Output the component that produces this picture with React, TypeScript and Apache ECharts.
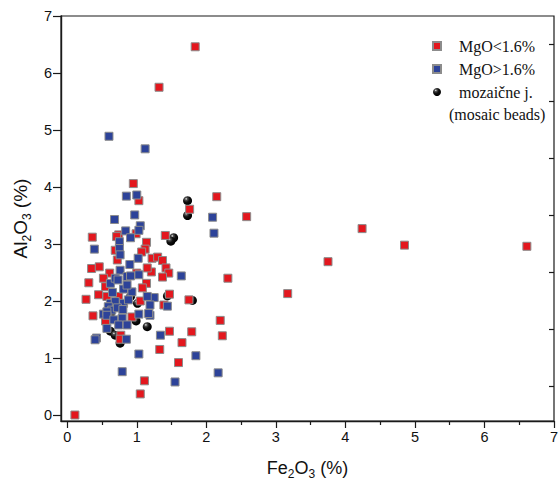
import React, { useEffect, useRef } from "react";
import * as echarts from "echarts";

const xMajorTicks = [0, 1, 2, 3, 4, 5, 6, 7];
const xMinorTicks = [0.5, 1.5, 2.5, 3.5, 4.5, 5.5, 6.5];
const yMajorTicks = [0, 1, 2, 3, 4, 5, 6, 7];
const yMinorTicks = [0.5, 1.5, 2.5, 3.5, 4.5, 5.5, 6.5];

const redLabel = "MgO<1.6%";
const blueLabel = "MgO>1.6%";
const beadLabel = "mozaične j.";
const beadLabel2 = "(mosaic beads)";

const redPoints: [number, number][] = [
  [0.11, 0.0], [1.84, 6.46], [1.32, 5.75], [2.15, 3.83], [2.58, 3.48], [4.24, 3.27],
  [4.85, 2.98], [6.61, 2.96], [3.75, 2.69], [2.31, 2.4], [3.17, 2.13], [2.2, 1.66],
  [2.23, 1.39], [1.76, 3.61], [1.41, 3.15], [1.22, 2.75], [1.3, 2.77], [1.37, 2.71],
  [1.42, 2.58], [1.46, 2.49], [1.37, 2.42], [1.21, 2.51], [1.47, 2.12], [1.75, 2.02],
  [1.39, 1.93], [0.95, 4.06], [1.03, 3.76], [0.74, 3.16], [0.99, 3.18], [0.36, 3.12],
  [1.14, 3.03], [1.12, 2.91], [1.07, 2.86], [0.69, 2.89], [0.72, 2.72], [0.35, 2.57],
  [0.46, 2.6], [0.61, 2.49], [1.0, 2.49], [1.15, 2.58], [1.14, 2.31], [1.08, 2.23],
  [0.31, 2.32], [0.52, 2.4], [0.55, 2.25], [0.27, 2.03], [0.45, 2.11], [0.57, 2.08],
  [0.74, 2.08], [1.05, 2.0], [0.37, 1.74], [0.93, 1.72], [0.55, 1.65], [0.77, 1.4],
  [0.76, 1.33], [1.47, 1.47], [1.79, 1.46], [1.65, 1.27], [1.33, 1.15], [1.6, 0.92],
  [1.11, 0.6], [1.05, 0.37], [0.71, 3.13],
];

const bluePoints: [number, number][] = [
  [0.6, 4.89], [1.12, 4.67], [2.09, 3.47], [2.11, 3.19], [1.64, 2.44], [1.25, 2.06],
  [1.44, 1.91], [1.19, 1.75], [0.85, 3.84], [1.0, 3.86], [0.97, 3.51], [0.68, 3.43],
  [1.05, 3.32], [1.03, 3.24], [0.84, 3.23], [0.91, 3.11], [0.39, 2.91], [0.75, 3.04],
  [0.75, 2.92], [0.76, 2.81], [1.02, 2.75], [0.9, 2.64], [0.76, 2.54], [0.86, 2.43],
  [0.91, 2.44], [1.03, 2.46], [0.62, 2.31], [0.69, 2.4], [0.73, 2.37], [0.81, 2.21],
  [0.93, 2.16], [0.86, 2.28], [0.62, 1.96], [0.69, 1.99], [0.81, 1.96], [0.88, 2.02],
  [1.15, 2.08], [1.19, 1.93], [0.52, 1.77], [1.03, 1.77], [1.17, 1.78], [0.59, 1.9],
  [0.64, 1.84], [0.57, 1.81], [0.57, 1.75], [0.67, 1.67], [0.79, 1.7], [0.86, 1.58],
  [0.74, 1.58], [0.57, 1.52], [0.42, 1.35], [0.4, 1.32], [0.85, 1.33], [1.34, 1.4],
  [1.03, 1.07], [1.85, 1.04], [0.79, 0.76], [1.55, 0.58], [2.17, 0.74], [0.65, 2.15],
  [0.72, 1.88], [0.8, 1.85],
];

const beadPoints: [number, number][] = [
  [1.73, 3.76], [1.73, 3.5], [1.53, 3.11], [1.49, 3.05], [1.44, 2.09], [1.8, 2.01],
  [0.91, 2.08], [1.01, 1.96], [0.99, 1.65], [1.15, 1.55], [0.62, 1.47], [0.69, 1.4],
  [0.76, 1.26], [0.62, 1.77],
];

const SANS = "'Liberation Sans', Arial, sans-serif";
const SERIF = "'Liberation Serif', 'Times New Roman', serif";

export default function App() {
  const ref = useRef<HTMLDivElement>(null);
  useEffect(() => {
    document.body.style.margin = "0";
    if (!ref.current) return;
    const chart = echarts.init(ref.current, undefined, { renderer: "svg" });
    const sphere = new echarts.graphic.RadialGradient(0.35, 0.3, 0.65, [
      { offset: 0, color: "#ffffff" },
      { offset: 0.2, color: "#555555" },
      { offset: 0.55, color: "#111111" },
      { offset: 1, color: "#000000" },
    ]);
    const xRich = {
      a: { fontSize: 18, fontFamily: SANS, color: "#111" },
      s: { fontSize: 12, fontFamily: SANS, color: "#111", padding: [12, 0, 0, 0] },
    };
    const yRich = {
      a: { fontSize: 19, fontFamily: SANS, color: "#111" },
      s: { fontSize: 12, fontFamily: SANS, color: "#111", padding: [13, 0, 0, 0] },
    };
    const gridH = 483 - 16 - 62;
    const gridW = 560 - 61 - 6;
    const option: any = {
      animation: false,
      backgroundColor: "#fff",
      grid: {
        left: 61, right: 6, top: 16, bottom: 62,
        outerBoundsMode: "none",
        containLabel: false,
        show: true, borderColor: "#1a1a1a", borderWidth: 1.2, backgroundColor: "transparent",
      },
      legend: {
        orient: "vertical",
        left: 432,
        top: 38,
        padding: 0,
        itemWidth: 8,
        itemHeight: 8,
        itemGap: 7,
        data: [redLabel, blueLabel, beadLabel],
        textStyle: {
          fontFamily: SERIF, fontSize: 16, color: "#111", lineHeight: 16,
          padding: [0, 0, 0, 13],
        },
        selectedMode: false,
      },
      graphic: [
        {
          type: "text", left: 449, top: 106,
          style: { text: beadLabel2, font: `16px ${SERIF}`, fill: "#111" },
        },
      ],
      xAxis: [
        {
          type: "value", min: -0.09, max: 7, position: "bottom",
          name: "{a|Fe}{s|2}{a|O}{s|3}{a| (%)}",
          nameLocation: "middle", nameGap: 35,
          nameTextStyle: { rich: xRich },
          axisLine: { show: true, onZero: false, lineStyle: { color: "#1a1a1a", width: 1.4 } },
          axisTick: { show: true, customValues: xMajorTicks, length: 7, lineStyle: { color: "#1a1a1a", width: 1.2 } },
          axisLabel: { customValues: xMajorTicks, margin: 8, fontSize: 14.5, fontFamily: SANS, color: "#111" },
          splitLine: { show: false },
        },
        {
          type: "value", min: -0.09, max: 7, position: "top", offset: -gridH,
          axisLine: { show: false },
          axisTick: { show: true, inside: true, customValues: xMinorTicks, length: 4, lineStyle: { color: "#1a1a1a", width: 1.2 } },
          axisLabel: { show: false },
          splitLine: { show: false },
        },
      ],
      yAxis: [
        {
          type: "value", min: -0.105, max: 7, position: "left",
          name: "{a|Al}{s|2}{a|O}{s|3}{a| (%)}",
          nameLocation: "middle", nameGap: 27,
          nameTextStyle: { rich: yRich },
          axisLine: { show: true, onZero: false, lineStyle: { color: "#1a1a1a", width: 1.4 } },
          axisTick: { show: true, customValues: yMajorTicks, length: 8, lineStyle: { color: "#1a1a1a", width: 1.2 } },
          axisLabel: { customValues: yMajorTicks, margin: 9, fontSize: 14.5, fontFamily: SANS, color: "#111" },
          splitLine: { show: false },
        },
        {
          type: "value", min: -0.105, max: 7, position: "right", offset: -gridW,
          axisLine: { show: false },
          axisTick: { show: true, inside: true, customValues: yMinorTicks, length: 5, lineStyle: { color: "#1a1a1a", width: 1.2 } },
          axisLabel: { show: false },
          splitLine: { show: false },
        },
      ],
      series: [
        {
          name: beadLabel, type: "scatter", data: beadPoints, symbol: "circle", symbolSize: 9,
          itemStyle: { color: sphere, opacity: 1 }, z: 2,
        },
        {
          name: redLabel, type: "scatter", data: redPoints, symbol: "rect", symbolSize: 8,
          itemStyle: { color: "#e3171e", borderColor: "#8c8c8c", borderWidth: 1, opacity: 1 }, z: 3,
        },
        {
          name: blueLabel, type: "scatter", data: bluePoints, symbol: "rect", symbolSize: 8,
          itemStyle: { color: "#2d4399", borderColor: "#8c8c8c", borderWidth: 1, opacity: 1 }, z: 4,
        },
      ],
    };
    chart.setOption(option);
    return () => chart.dispose();
  }, []);
  return <div ref={ref} style={{ position: "absolute", left: 0, top: 0, width: 560, height: 483 }} />;
}
